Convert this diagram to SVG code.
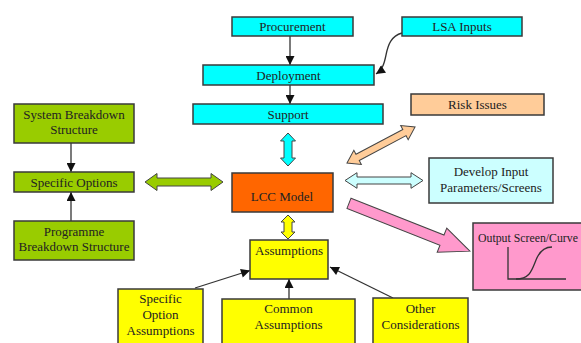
<svg xmlns="http://www.w3.org/2000/svg" width="581" height="343" viewBox="0 0 581 343">
  <style>
    .box { stroke: #3a3a3a; stroke-width: 1.5; }
    .cyan { fill: #00ffff; }
    .green { fill: #99cc00; }
    .yellow { fill: #ffff00; }
    .orange { fill: #ff6600; }
    .peach { fill: #ffcc99; }
    .ice { fill: #ccffff; }
    .pink { fill: #ff99cc; }
    .conn { fill: none; stroke: #333; stroke-width: 1.3; }
    .block { stroke: #444; stroke-width: 1; }
  </style>
  <defs>
    <marker id="head" viewBox="0 0 10 10" refX="10" refY="5" markerWidth="10" markerHeight="9" markerUnits="userSpaceOnUse" orient="auto">
      <path d="M0,0 L10,5 L0,10 z" fill="#111"/>
    </marker>
  </defs>

  <rect width="581" height="343" fill="#ffffff"/>

  <!-- connectors -->
  <g id="connectors">
    <path class="conn" d="M290,36 V65" marker-end="url(#head)"/>
    <path class="conn" d="M290,85 V104" marker-end="url(#head)"/>
    <path class="conn" d="M402,33 C391,36 388,45 386,55 C384,65 382,70 376,74" marker-end="url(#head)"/>
    <path class="conn" d="M71,143 V172" marker-end="url(#head)"/>
    <path class="conn" d="M71,221 V192" marker-end="url(#head)"/>
    <path class="conn" d="M195,288 L250,270.5" marker-end="url(#head)"/>
    <path class="conn" d="M289,299 V279" marker-end="url(#head)"/>
    <path class="conn" d="M393,298 L330,267" marker-end="url(#head)"/>

    <!-- block arrows -->
    <polygon class="block cyan" transform="translate(288,133) rotate(90)" points="0,0 8,-7.5 8,-4 25,-4 25,-7.5 33,0 25,7.5 25,4 8,4 8,7.5"/>
    <polygon class="block yellow" transform="translate(288,215) rotate(90)" points="0,0 7,-7 7,-4 17,-4 17,-7 24,0 17,7 17,4 7,4 7,7"/>
    <polygon class="block green" transform="translate(145,182)" points="0,0 12,-8.5 12,-4 66,-4 66,-8.5 78,0 66,8.5 66,4 12,4 12,8.5"/>
    <polygon class="block ice" transform="translate(345,180.5)" points="0,0 12,-7.8 12,-3.5 66,-3.5 66,-7.8 78,0 66,7.8 66,3.5 12,3.5 12,7.8"/>
    <polygon class="block peach" transform="translate(347,163) rotate(-27.9)" points="0,0 12,-8 12,-3.5 65,-3.5 65,-8 77,0 65,8 65,3.5 12,3.5 12,8"/>
    <polygon class="block pink" transform="translate(349,203.3) rotate(21.6)" points="0,-5.5 100,-5.5 100,-13 130,0 100,13 100,5.5 0,5.5"/>
  </g>

  <g font-family="Liberation Serif, Times New Roman, serif" font-size="13" fill="#222" text-anchor="middle">
  <g id="procurement">
    <rect class="box cyan" x="232" y="17" width="121" height="19"/>
    <text x="292.5" y="31">Procurement</text>
  </g>
  <g id="lsa-inputs">
    <rect class="box cyan" x="402" y="17" width="120" height="19"/>
    <text x="462" y="31">LSA Inputs</text>
  </g>
  <g id="deployment">
    <rect class="box cyan" x="203" y="65" width="171" height="20"/>
    <text x="288.5" y="79.5">Deployment</text>
  </g>
  <g id="support">
    <rect class="box cyan" x="193" y="104" width="190" height="20"/>
    <text x="288" y="118.5">Support</text>
  </g>

  <g id="system-breakdown">
    <rect class="box green" x="14" y="104" width="120" height="39"/>
    <text x="74" y="118.5">System Breakdown</text>
    <text x="74" y="134">Structure</text>
  </g>
  <g id="specific-options">
    <rect class="box green" x="14" y="172" width="120" height="20"/>
    <text x="74" y="186.5">Specific Options</text>
  </g>
  <g id="programme-breakdown">
    <rect class="box green" x="14" y="221" width="120" height="39"/>
    <text x="74" y="236">Programme</text>
    <text x="74" y="250.5">Breakdown Structure</text>
  </g>

  <g id="lcc-model">
    <rect class="box orange" x="232" y="173" width="101" height="39"/>
    <text x="282" y="200.5">LCC Model</text>
  </g>

  <g id="risk-issues">
    <rect class="box peach" x="411" y="94" width="133" height="21"/>
    <text x="477.5" y="109">Risk Issues</text>
  </g>
  <g id="develop-input">
    <rect class="box ice" x="429" y="158" width="124" height="45"/>
    <text x="491" y="175.5">Develop Input</text>
    <text x="491" y="191.5">Parameters/Screens</text>
  </g>
  <g id="output-screen">
    <rect class="box pink" x="473" y="223" width="120" height="67"/>
    <text x="478" y="242" text-anchor="start" font-size="11.8">Output Screen/Curve</text>
    <path class="conn" d="M508,247 V279 H566"/>
    <path class="conn" d="M516,279 C530,279 532,270 536,260 C540,250 545,247 552,247"/>
  </g>

  <g id="assumptions">
    <rect class="box yellow" x="250" y="240" width="78" height="39"/>
    <text x="289" y="254.5">Assumptions</text>
  </g>
  <g id="specific-option-assumptions">
    <rect class="box yellow" x="118" y="289" width="85" height="60"/>
    <text x="160.5" y="302.5">Specific</text>
    <text x="160.5" y="318.5">Option</text>
    <text x="160.5" y="334.5">Assumptions</text>
  </g>
  <g id="common-assumptions">
    <rect class="box yellow" x="222" y="299" width="133" height="50"/>
    <text x="288.5" y="312.5">Common</text>
    <text x="288.5" y="328.5">Assumptions</text>
  </g>
  <g id="other-considerations">
    <rect class="box yellow" x="373" y="298" width="95" height="51"/>
    <text x="420.5" y="312.5">Other</text>
    <text x="420.5" y="328.5">Considerations</text>
  </g>
  </g>
</svg>
